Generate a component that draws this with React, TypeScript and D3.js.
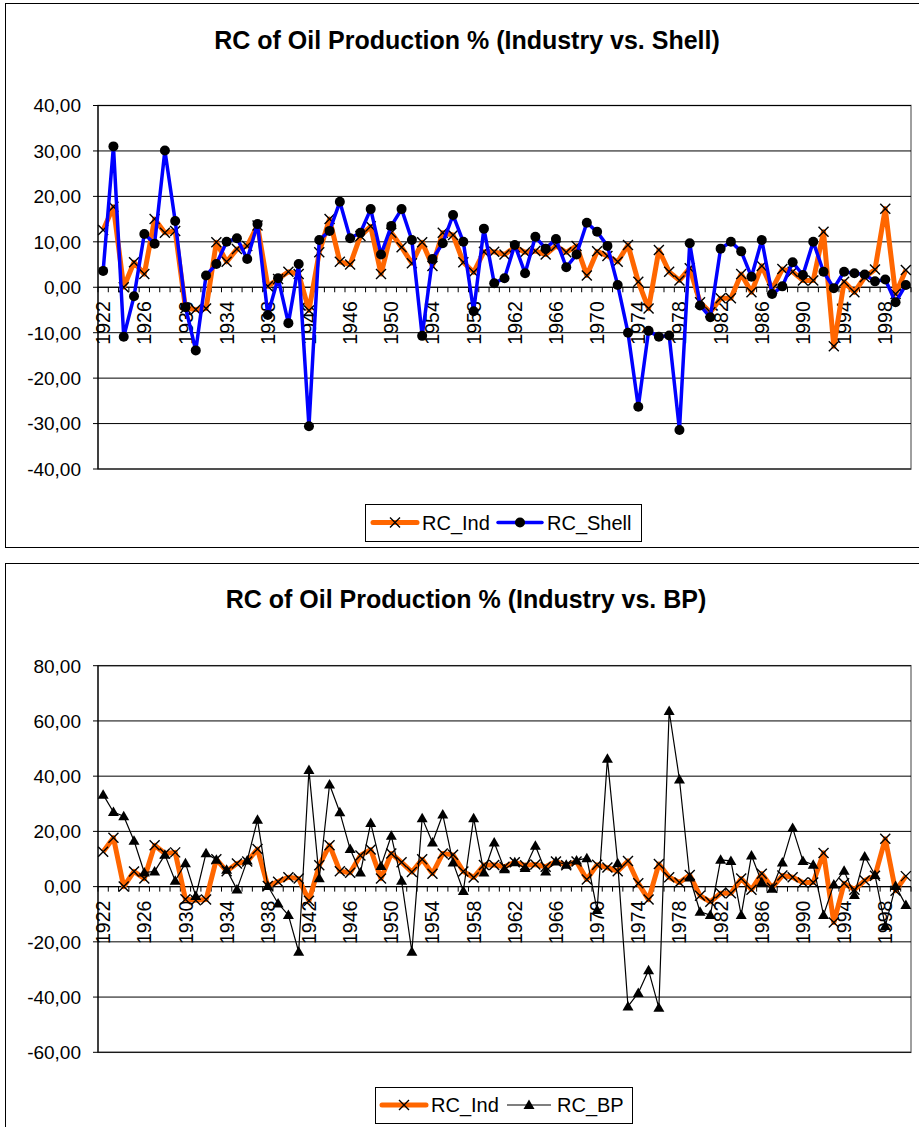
import React from "react";
import * as d3 from "d3";

const years: number[] = [
  1922, 1923, 1924, 1925, 1926, 1927, 1928, 1929, 1930, 1931, 1932, 1933, 1934, 1935, 1936, 1937, 1938, 1939, 1940,
  1941, 1942, 1943, 1944, 1945, 1946, 1947, 1948, 1949, 1950, 1951, 1952, 1953, 1954, 1955, 1956, 1957, 1958, 1959,
  1960, 1961, 1962, 1963, 1964, 1965, 1966, 1967, 1968, 1969, 1970, 1971, 1972, 1973, 1974, 1975, 1976, 1977, 1978,
  1979, 1980, 1981, 1982, 1983, 1984, 1985, 1986, 1987, 1988, 1989, 1990, 1991, 1992, 1993, 1994, 1995, 1996, 1997,
  1998, 1999, 2000,
];

const rcInd: number[] = [
  12.6, 17.7, 0.0, 5.5, 2.9, 15.0, 12.0, 12.4, -4.6, -4.9, -4.7, 9.9, 5.6, 8.4, 9.1, 13.6, 0.2, 1.8, 3.4,
  2.9, -5.1, 7.7, 15.0, 5.6, 5.0, 11.3, 13.4, 2.9, 12.0, 8.8, 5.3, 9.9, 4.7, 12.0, 11.5, 5.5, 3.3, 7.8,
  7.8, 7.2, 8.8, 7.7, 8.0, 7.2, 9.1, 7.7, 9.1, 2.6, 7.9, 6.9, 5.6, 9.3, 1.2, -4.7, 8.2, 3.4, 1.5,
  4.2, -3.3, -5.5, -2.4, -2.4, 2.9, -1.1, 4.7, -0.4, 4.0, 3.4, 1.5, 1.5, 12.2, -13.0, 1.2, -1.1, 2.2, 3.9,
  17.3, -1.5, 3.8,
];

const rcShell: number[] = [
  3.6, 31.0, -10.9, -2.0, 11.7, 9.6, 30.1, 14.6, -4.4, -13.9, 2.6, 5.1, 10.0, 10.8, 6.2, 13.9, -6.1, 2.0, -7.9,
  5.1, -30.6, 10.4, 12.4, 18.8, 10.8, 12.0, 17.2, 7.2, 13.5, 17.2, 10.4, -10.7, 6.2, 9.7, 15.9, 10.0, -5.3, 12.9,
  0.9, 2.0, 9.3, 3.1, 11.1, 8.5, 10.6, 4.4, 7.2, 14.2, 12.2, 9.1, 0.5, -10.0, -26.3, -9.6, -10.9, -10.6, -31.4,
  9.7, -4.0, -6.6, 8.5, 10.0, 7.9, 2.3, 10.4, -1.5, 0.2, 5.5, 2.7, 10.0, 3.4, -0.2, 3.4, 3.1, 2.8, 1.3,
  1.7, -3.3, 0.5,
];

const rcBP: number[] = [
  33.3, 27.0, 25.5, 16.6, 5.1, 5.5, 11.5, 2.1, 8.5, -3.4, 12.1, 9.7, 6.1, -1.0, 9.5, 24.2, 0.2, -6.1, -10.3,
  -23.6, 42.2, 3.0, 37.0, 26.9, 13.6, 5.1, 23.0, 7.5, 18.4, 2.1, -23.6, 24.8, 16.0, 26.1, 8.7, -1.6, 24.8, 5.1,
  16.0, 6.3, 8.8, 6.7, 14.8, 5.5, 9.1, 7.9, 9.5, 10.3, -8.5, 46.3, 8.5, -43.4, -38.5, -30.3, -43.9, 63.6, 38.8,
  3.3, -9.1, -10.3, 9.7, 9.3, -10.3, 11.3, 1.6, -0.8, 8.7, 21.2, 9.3, 7.9, -10.3, 0.8, 5.7, -3.0, 10.9, 4.2,
  -14.3, 0.2, -6.7,
];

const topTicks: number[] = [-40, -30, -20, -10, 0, 10, 20, 30, 40];
const bottomTicks: number[] = [-60, -40, -20, 0, 20, 40, 60, 80];
const yearLabels: number[] = [1922, 1926, 1930, 1934, 1938, 1942, 1946, 1950, 1954, 1958, 1962, 1966, 1970, 1974, 1978, 1982, 1986, 1990, 1994, 1998];

const FONT = "'Liberation Sans', Arial, Helvetica, sans-serif";
const ORANGE = "#FF6600";
const BLUE = "#0000FF";

const fmt = (v: number) => v.toFixed(2).replace(".", ",");

type MarkerKind = "x" | "dot" | "tri";

function Marker({ kind, x, y }: { kind: MarkerKind; x: number; y: number }) {
  if (kind === "x") {
    return (
      <path
        d={`M${x - 5},${y - 5}L${x + 5},${y + 5}M${x - 5},${y + 5}L${x + 5},${y - 5}`}
        stroke="#000"
        strokeWidth={1.4}
        fill="none"
      />
    );
  }
  if (kind === "dot") {
    return <circle cx={x} cy={y} r={5} fill="#000" />;
  }
  return <path d={`M${x},${y - 5.5}L${x + 5.5},${y + 4}L${x - 5.5},${y + 4}Z`} fill="#000" />;
}

type Series = {
  name: string;
  values: number[];
  color: string;
  width: number;
  marker: MarkerKind;
};

type ChartProps = {
  title: string;
  titleX: number;
  titleY: number;
  frameY: number;
  frameH: number;
  plotTop: number;
  plotBottom: number;
  domain: [number, number];
  ticks: number[];
  series: Series[];
  legend: { x: number; y: number; w: number; h: number; items: { lineX: number; textX: number }[] };
};

const PLOT_LEFT = 98;
const PLOT_RIGHT = 911;

function Chart(p: ChartProps) {
  const x = d3.scaleBand<number>().domain(years).range([PLOT_LEFT, PLOT_RIGHT]).paddingInner(0).paddingOuter(0);
  const cx = (yr: number) => (x(yr) as number) + x.bandwidth() / 2;
  const y = d3.scaleLinear().domain(p.domain).range([p.plotBottom, p.plotTop]);
  const y0 = y(0);
  const line = d3
    .line<number>()
    .x((_, i) => cx(years[i]))
    .y((d) => y(d));

  const boundaries = years.map((yr) => x(yr) as number).concat([PLOT_RIGHT]);
  const legendMid = p.legend.y + p.legend.h / 2;

  return (
    <g>
      <rect x={5.5} y={p.frameY + 0.5} width={930} height={p.frameH} fill="#fff" stroke="#000" strokeWidth={1} />
      <text
        x={p.titleX}
        y={p.titleY}
        textAnchor="middle"
        fontFamily={FONT}
        fontWeight="bold"
        fontSize={25}
        fill="#000"
      >
        {p.title}
      </text>
      <rect
        x={PLOT_LEFT}
        y={p.plotTop}
        width={PLOT_RIGHT - PLOT_LEFT}
        height={p.plotBottom - p.plotTop}
        fill="#fff"
        stroke="#808080"
        strokeWidth={1.5}
      />
      {p.ticks.map((t) => (
        <g key={t}>
          <line x1={PLOT_LEFT} x2={PLOT_RIGHT} y1={y(t)} y2={y(t)} stroke="#000" strokeWidth={1} />
          <line x1={PLOT_LEFT - 5} x2={PLOT_LEFT} y1={y(t)} y2={y(t)} stroke="#000" strokeWidth={1} />
          <text
            x={81}
            y={y(t)}
            dy="0.36em"
            textAnchor="end"
            fontFamily={FONT}
            fontSize={19}
            fill="#000"
          >
            {fmt(t)}
          </text>
        </g>
      ))}
      <line x1={PLOT_LEFT} x2={PLOT_LEFT} y1={p.plotTop} y2={p.plotBottom} stroke="#000" strokeWidth={1.2} />
      <line x1={PLOT_LEFT} x2={PLOT_RIGHT} y1={y0} y2={y0} stroke="#000" strokeWidth={1.2} />
      {boundaries.map((bx, i) => (
        <line key={i} x1={bx} x2={bx} y1={y0} y2={y0 + 5} stroke="#000" strokeWidth={1} />
      ))}
      {yearLabels.map((yr) => (
        <text
          key={yr}
          transform={`translate(${cx(yr)},${y0 + 14}) rotate(-90)`}
          dy="0.36em"
          textAnchor="end"
          fontFamily={FONT}
          fontSize={19.5}
          fill="#000"
        >
          {yr}
        </text>
      ))}
      {p.series.map((s) => (
        <g key={s.name}>
          <path
            d={line(s.values) || ""}
            fill="none"
            stroke={s.color}
            strokeWidth={s.width}
            strokeLinejoin="round"
          />
          {s.values.map((v, i) => (
            <Marker key={i} kind={s.marker} x={cx(years[i])} y={y(v)} />
          ))}
        </g>
      ))}
      <rect
        x={p.legend.x + 0.5}
        y={p.legend.y + 0.5}
        width={p.legend.w}
        height={p.legend.h}
        fill="#fff"
        stroke="#000"
        strokeWidth={1}
      />
      {p.series.map((s, i) => {
        const it = p.legend.items[i];
        return (
          <g key={s.name}>
            <line
              x1={it.lineX}
              x2={it.lineX + 44}
              y1={legendMid}
              y2={legendMid}
              stroke={s.color}
              strokeWidth={s.width}
              strokeLinecap={s.width > 2 ? "round" : "butt"}
            />
            <Marker kind={s.marker} x={it.lineX + 22} y={legendMid} />
            <text x={it.textX} y={legendMid} dy="0.36em" fontFamily={FONT} fontSize={20} fill="#000">
              {s.name}
            </text>
          </g>
        );
      })}
    </g>
  );
}

export default function App() {
  return (
    <svg
      width={919}
      height={1127}
      style={{ position: "absolute", left: 0, top: 0, background: "#fff" }}
    >
      <rect x={0} y={0} width={919} height={1127} fill="#fff" />
      <Chart
        title="RC of Oil Production %  (Industry vs. Shell)"
        titleX={467}
        titleY={49}
        frameY={3}
        frameH={544}
        plotTop={105.5}
        plotBottom={469}
        domain={[-40, 40]}
        ticks={topTicks}
        series={[
          { name: "RC_Ind", values: rcInd, color: ORANGE, width: 5, marker: "x" },
          { name: "RC_Shell", values: rcShell, color: BLUE, width: 3.5, marker: "dot" },
        ]}
        legend={{
          x: 365,
          y: 504,
          w: 276,
          h: 37,
          items: [
            { lineX: 373, textX: 422 },
            { lineX: 498, textX: 547 },
          ],
        }}
      />
      <Chart
        title="RC of Oil Production %  (Industry vs. BP)"
        titleX={466}
        titleY={608}
        frameY={563}
        frameH={600}
        plotTop={665.7}
        plotBottom={1052.3}
        domain={[-60, 80]}
        ticks={bottomTicks}
        series={[
          { name: "RC_Ind", values: rcInd, color: ORANGE, width: 5, marker: "x" },
          { name: "RC_BP", values: rcBP, color: "#000", width: 1.2, marker: "tri" },
        ]}
        legend={{
          x: 375,
          y: 1087,
          w: 257,
          h: 36,
          items: [
            { lineX: 382, textX: 431 },
            { lineX: 507, textX: 557 },
          ],
        }}
      />
    </svg>
  );
}
